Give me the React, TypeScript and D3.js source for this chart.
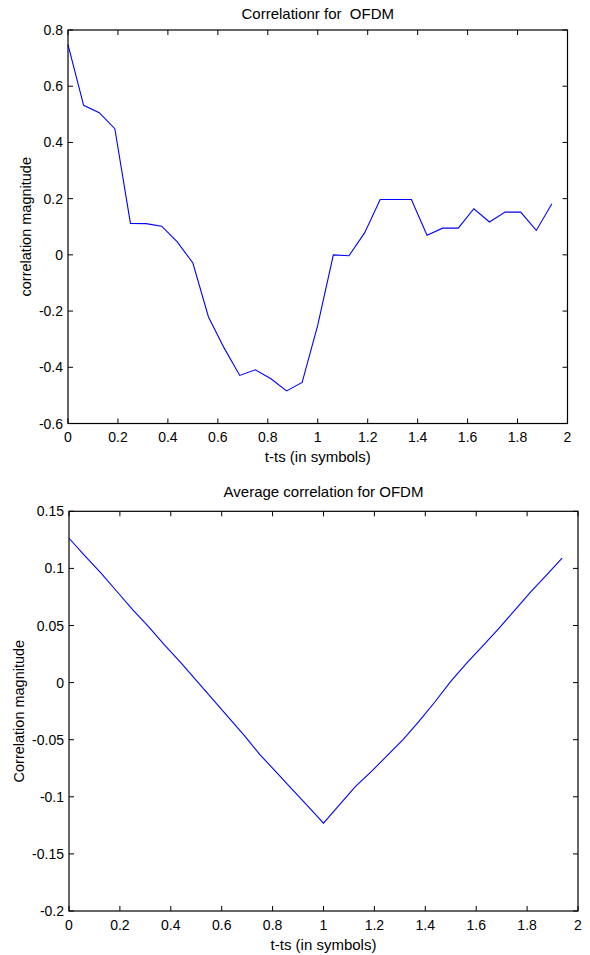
import React from "react";
import * as d3 from "d3";

// x positions in symbols (step 1/16)
const tTop = d3.range(32).map((i) => i / 16);
const tBottom = d3.range(32).map((i) => i / 16);

const corrValues = [
  0.748, 0.532, 0.506, 0.449, 0.112, 0.111, 0.102, 0.046,
  -0.029, -0.221, -0.331, -0.429, -0.409, -0.441, -0.484, -0.454,
  -0.25, 0.0, -0.003, 0.078, 0.197, 0.197, 0.197, 0.07,
  0.095, 0.095, 0.164, 0.117, 0.152, 0.152, 0.087, 0.182,
];

const avgValues = [
  0.1264, 0.111, 0.096, 0.080, 0.064, 0.049, 0.033, 0.018,
  0.002, -0.014, -0.030, -0.046, -0.063, -0.078, -0.093, -0.108,
  -0.123, -0.107, -0.091, -0.078, -0.064, -0.050, -0.034, -0.017,
  0.001, 0.017, 0.032, 0.047, 0.063, 0.079, 0.094, 0.109,
];

const xTicks = [0, 0.2, 0.4, 0.6, 0.8, 1, 1.2, 1.4, 1.6, 1.8, 2];
const yTicksTop = [-0.6, -0.4, -0.2, 0, 0.2, 0.4, 0.6, 0.8];
const yTicksBottom = [-0.2, -0.15, -0.1, -0.05, 0, 0.05, 0.1, 0.15];

const FONT = "'Liberation Sans', Arial, Helvetica, sans-serif";

function fmt(v: number) {
  if (Math.abs(v) < 1e-9) return "0";
  return String(+v.toFixed(2));
}

function Panel(props: {
  left: number; right: number; top: number; bottom: number;
  xs: number[]; ys: number[]; yTicks: number[]; yDomain: [number, number];
  title: string; titleGap: number; xLabel: string; yLabel: string; yLabelX: number;
}) {
  const { left, right, top, bottom } = props;
  const x = d3.scaleLinear().domain([0, 2]).range([left, right]);
  const y = d3.scaleLinear().domain(props.yDomain).range([bottom, top]);
  const line = d3.line<number>()
    .x((_, i) => x(props.xs[i]))
    .y((d) => y(d));
  const tk = 5;
  return (
    <g fontFamily={FONT} fill="#000">
      <path d={line(props.ys) || ""} fill="none" stroke="#0000ff" strokeWidth={1.1} />
      <rect x={left} y={top} width={right - left} height={bottom - top}
        fill="none" stroke="#000" strokeWidth={1.2} />
      {xTicks.map((t) => (
        <g key={"x" + t}>
          <line x1={x(t)} x2={x(t)} y1={bottom} y2={bottom - tk} stroke="#000" />
          <line x1={x(t)} x2={x(t)} y1={top} y2={top + tk} stroke="#000" />
          <text x={x(t)} y={bottom + 18.5} fontSize={14} textAnchor="middle">{fmt(t)}</text>
        </g>
      ))}
      {props.yTicks.map((t) => (
        <g key={"y" + t}>
          <line x1={left} x2={left + tk} y1={y(t)} y2={y(t)} stroke="#000" />
          <line x1={right} x2={right - tk} y1={y(t)} y2={y(t)} stroke="#000" />
          <text x={left - 5} y={y(t) + 5} fontSize={14} textAnchor="end">{fmt(t)}</text>
        </g>
      ))}
      <text x={(left + right) / 2} y={top - props.titleGap} fontSize={15} textAnchor="middle"
        style={{ whiteSpace: "pre" }}>{props.title}</text>
      <text x={(left + right) / 2} y={bottom + 38.5} fontSize={15} textAnchor="middle">{props.xLabel}</text>
      <text transform={`translate(${props.yLabelX},${(top + bottom) / 2}) rotate(-90)`}
        fontSize={14.5} textAnchor="middle">{props.yLabel}</text>
    </g>
  );
}

export default function App() {
  return (
    <svg width={590} height={955} style={{ position: "absolute", left: 0, top: 0, background: "#fff" }}>
      <rect width={590} height={955} fill="#fff" />
      <Panel left={68} right={567.5} top={30} bottom={423.5}
        xs={tTop} ys={corrValues} yTicks={yTicksTop} yDomain={[-0.6, 0.8]}
        title={"Correlationr for  OFDM"} titleGap={11.5} xLabel="t-ts (in symbols)"
        yLabel="correlation magnitude" yLabelX={31} />
      <Panel left={69} right={578} top={511.3} bottom={911}
        xs={tBottom} ys={avgValues} yTicks={yTicksBottom} yDomain={[-0.2, 0.15]}
        title="Average correlation for OFDM" titleGap={14} xLabel="t-ts (in symbols)"
        yLabel="Correlation magnitude" yLabelX={24} />
    </svg>
  );
}
